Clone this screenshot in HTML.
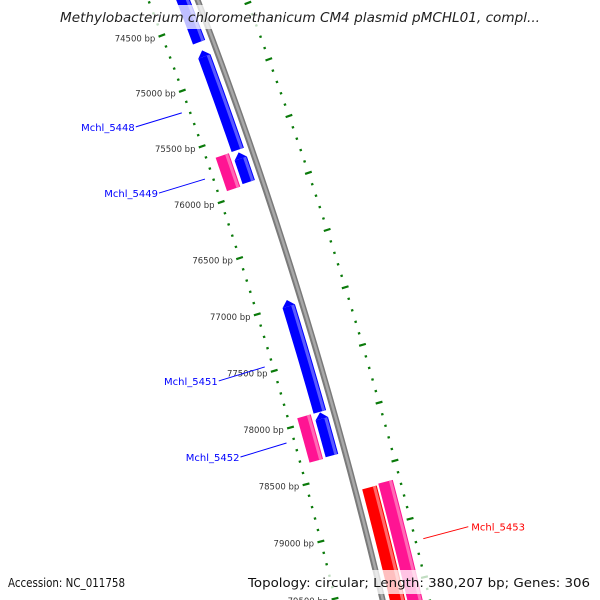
<!DOCTYPE html>
<html><head><meta charset="utf-8"><style>
html,body{margin:0;padding:0;background:#fff;width:600px;height:600px;overflow:hidden;}
svg{display:block;font-family:"DejaVu Sans","Liberation Sans",sans-serif;}
</style></head><body>
<svg id="map" width="600" height="600" viewBox="0 0 600 600" xmlns="http://www.w3.org/2000/svg">
<rect width="600" height="600" fill="#fff"/>
<g id="ticks"></g>
<g id="backbone"></g>
<g id="feats"></g>
<g id="labels"></g>
<rect x="55" y="5" width="490" height="24" fill="#fff" fill-opacity="0.75"/>
<text x="60" y="22" textLength="480" lengthAdjust="spacingAndGlyphs" font-size="13" font-style="italic" fill="#222">Methylobacterium chloromethanicum CM4 plasmid pMCHL01, compl...</text>
<rect x="4" y="570" width="126" height="24" fill="#fff" fill-opacity="0.75"/>
<text x="8" y="587" textLength="117" lengthAdjust="spacingAndGlyphs" font-size="12" fill="#111">Accession: NC_011758</text>
<rect x="244" y="570" width="352" height="24" fill="#fff" fill-opacity="0.75"/>
<text x="248" y="587" textLength="342" lengthAdjust="spacingAndGlyphs" font-size="12" fill="#111">Topology: circular; Length: 380,207 bp; Genes: 306</text>
</svg>
<script>
// data
const featStart = [73500, 74737, 75650, 75630, 76958, 77945, 77940, 78662, 78650];
const featEnd   = [74664, 75628, 75914, 75928, 77940, 78322, 78330, 80500, 80500];
const featStrand= [-1, -1, -1, 1, -1, -1, 1, 1, 1];
const featRing  = ["in", "in", "in", "in2", "in", "in", "in2", "out", "out2"];
const featKind  = ["blue", "blue", "blue", "pink", "blue", "blue", "pink", "red", "pink"];
const labelNames = ["Mchl_5448", "Mchl_5449", "Mchl_5451", "Mchl_5452", "Mchl_5453"];
const labelBp    = [75175, 75771, 77446, 78118, 79187];
const labelSide  = ["in", "in", "in", "in", "out"];
const tickMin = 73800, tickMax = 80500, tickMinor = 100, tickMajor = 500;

// geometry
const CX = -4240, CY = 1697, R0 = 4751;
const A0 = -20.68, K = 0.001436, BP0 = 74500;
function ang(bp){ return (A0 + (bp - BP0) * K) * Math.PI / 180; }
function pt(bp, r){ const a = ang(bp); return [CX + r * Math.cos(a), CY + r * Math.sin(a)]; }
const NS = "http://www.w3.org/2000/svg";
function mk(tag, attrs, parent){ const e = document.createElementNS(NS, tag); for (const k in attrs) e.setAttribute(k, attrs[k]); parent.appendChild(e); return e; }
function band(b1, b2, r1, r2){
  const pts = []; const n = 30;
  for (let i = 0; i <= n; i++){ pts.push(pt(b1 + (b2 - b1) * i / n, r2)); }
  for (let i = n; i >= 0; i--){ pts.push(pt(b1 + (b2 - b1) * i / n, r1)); }
  return pts.map(p => p[0].toFixed(2) + "," + p[1].toFixed(2)).join(" ");
}
const ringR = {in: [R0 - 20, R0 - 7], in2: [R0 - 37, R0 - 23], out: [R0 + 7, R0 + 22], out2: [R0 + 24, R0 + 39]};
const colors = {blue: ["#0000ff", "#5a5aff"], pink: ["#ff1493", "#ff6ab5"], red: ["#ff0000", "#ff6a6a"]};

// backbone
const bb = document.getElementById("backbone");
const bbLine = mk("polygon", {points: band(tickMin, tickMax, R0 - 3, R0 + 3), fill: "#7a7a7a"}, bb);


const bbHi = mk("polygon", {points: band(tickMin, tickMax, R0 - 1, R0 + 1.5), fill: "#a8a8a8"}, bb);



// ticks
const tg = document.getElementById("ticks");
for (let bp = Math.ceil(tickMin / tickMinor) * tickMinor; bp <= tickMax; bp += tickMinor){
  const major = bp % tickMajor === 0;
  [[R0 - 46, -1], [R0 + 46, 1]].forEach(([r, s]) => {
    const h = major ? 3.5 : 1.2;
    const p1 = pt(bp, r - h), p2 = pt(bp, r + h);
    const l = mk("line", {x1: p1[0], y1: p1[1], x2: p2[0], y2: p2[1], stroke: "#0a7a0a", "stroke-width": 2.2}, tg);
    
    
    if (major && s < 0){
      const q = pt(bp, r - 7);
      const t = mk("text", {x: q[0], y: q[1] + 3.5, "text-anchor": "end", "font-size": "8.5", fill: "#333"}, tg);
      t.textContent = bp + " bp";
      
      
    }
  });
}

// features
const fg = document.getElementById("feats");
const arrowBp = 55;
featStart.forEach((s, i) => {
  const e = featEnd[i], [r1, r2] = ringR[featRing[i]], c = colors[featKind[i]];
  const g = mk("g", {}, fg);
  
  
  let b1 = s, b2 = e;
  if (featStrand[i] < 0 && featKind[i] === "blue") b1 = s + arrowBp;
  mk("polygon", {points: band(b1, b2, r1, r2), fill: c[0]}, g);
  mk("polygon", {points: band(b1, b2, r2 - 4, r2 - 1), fill: c[1]}, g);
  if (featStrand[i] < 0 && featKind[i] === "blue"){
    const a = pt(b1, r1), b = pt(b1, r2), t = pt(s, (r1 + r2) / 2);
    mk("polygon", {points: [a, b, t].map(p => p.join(",")).join(" "), fill: c[0]}, g);
  }
});

// labels
const lg = document.getElementById("labels");
labelNames.forEach((n, i) => {
  const out = labelSide[i] === "out";
  const p = pt(labelBp[i], out ? R0 + 54 : R0 - 54);
  const col = out ? "#ff0000" : "#0000ff";
  const lx = out ? p[0] + 45 : p[0] - 46, ly = out ? p[1] - 12 : p[1] + 14;
  const l = mk("line", {x1: p[0], y1: p[1], x2: lx, y2: ly, stroke: col, "stroke-width": 1}, lg);
  
  
  const t = mk("text", {x: out ? lx + 3 : lx - 1, y: ly + 4, "text-anchor": out ? "start" : "end", "font-size": "10", fill: col}, lg);
  t.textContent = n;
  
  
});
</script>
</body></html>
